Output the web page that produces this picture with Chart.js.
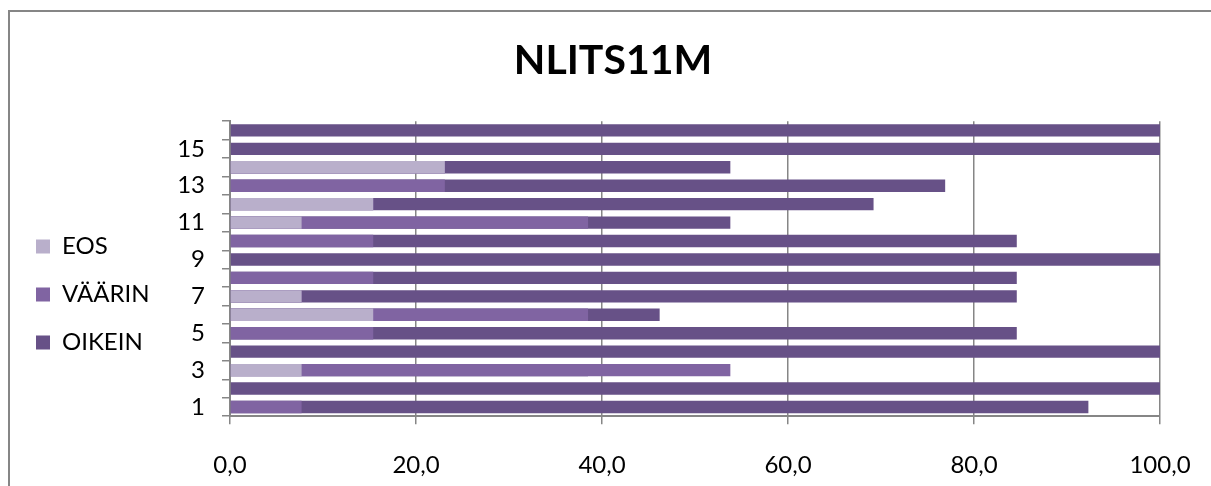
<!DOCTYPE html>
<html>
<head>
<meta charset="utf-8">
<title>NLITS11M</title>
<script src="https://cdn.jsdelivr.net/npm/chart.js@4.4.1/dist/chart.umd.min.js"></script>
<style>
  html, body { margin: 0; padding: 0; background: #ffffff; overflow: hidden; }
  #wrap { position: relative; width: 1211px; height: 486px; overflow: hidden; }
  #frame {
    position: absolute; left: 8px; top: 10px; width: 1240px; height: 500px;
    border-left: 2px solid #868686; border-top: 2px solid #868686;
    box-sizing: border-box; pointer-events: none;
  }
  canvas { position: absolute; left: 0; top: 0; }
</style>
</head>
<body>
<div id="wrap">
  <canvas id="chart" width="1226" height="486"></canvas>
  <div id="frame"></div>
</div>
<script>
// Question numbers (one bar each), share of answers in percent
const categories = ['1','2','3','4','5','6','7','8','9','10','11','12','13','14','15','16'];
const eos    = [0, 0, 7.7, 0, 0, 15.4, 7.7, 0, 0, 0, 7.7, 15.4, 0, 23.1, 0, 0];
const vaarin = [7.7, 0, 53.8, 0, 15.4, 38.5, 7.7, 15.4, 0, 15.4, 38.5, 15.4, 23.1, 23.1, 0, 0];
const oikein = [92.3, 100, 38.5, 100, 84.6, 46.2, 84.6, 84.6, 100, 84.6, 53.8, 69.2, 76.9, 53.8, 100, 100];
const xTicks = [0, 20, 40, 60, 80, 100];

const AXIS_GREY = '#868686';
const FONT = 'Lato, "Open Sans", sans-serif';
const PAD_LEFT = 12;
const PLOT_LEFT = 230;
const LEGEND_SHIFT = 36;

// Centre the title over the whole canvas and lower the legend next to the bars
const layoutTweaks = {
  id: 'layoutTweaks',
  afterLayout(chart) {
    if (chart.titleBlock) {
      chart.titleBlock.left = 0;
      chart.titleBlock.right = chart.width;
    }
    if (chart.legend) {
      chart.legend.top += LEGEND_SHIFT;
      chart.legend.bottom += LEGEND_SHIFT;
    }
  }
};

new Chart(document.getElementById('chart'), {
  type: 'bar',
  plugins: [layoutTweaks],
  data: {
    labels: categories,
    datasets: [
      { label: 'EOS',    data: eos,    backgroundColor: '#B9AFCB' },
      { label: 'VÄÄRIN', data: vaarin, backgroundColor: '#8064A2' },
      { label: 'OIKEIN', data: oikein, backgroundColor: '#675187' }
    ]
  },
  options: {
    indexAxis: 'y',
    responsive: false,
    animation: false,
    devicePixelRatio: 1,
    // bars share one slot and overlap, the first dataset is painted on top
    grouped: false,
    barPercentage: 0.67,
    categoryPercentage: 1,
    layout: { padding: { left: PAD_LEFT, right: 66, top: 10, bottom: -21 } },
    plugins: {
      title: {
        display: true,
        text: 'NLITS11M',
        color: '#000000',
        font: { family: FONT, size: 41, weight: 'bold' },
        padding: { top: 26, bottom: 36 }
      },
      legend: {
        position: 'left',
        align: 'center',
        labels: {
          color: '#000000',
          font: { family: FONT, size: 24 },
          boxWidth: 14,
          boxHeight: 14,
          padding: 24
        }
      },
      tooltip: { enabled: false }
    },
    scales: {
      x: {
        min: 0,
        max: 100,
        afterBuildTicks: (scale) => { scale.ticks = xTicks.map(v => ({ value: v })); },
        ticks: {
          color: '#000000',
          font: { family: FONT, size: 24 },
          padding: 27,
          maxRotation: 0,
          minRotation: 0,
          callback: (v) => Number(v).toFixed(1).replace('.', ',')
        },
        grid: { color: AXIS_GREY, lineWidth: 1.5, tickLength: 8 },
        border: { color: AXIS_GREY, width: 2 }
      },
      y: {
        reverse: true,
        afterFit: (scale) => {
          const lg = scale.chart.legend;
          if (lg && lg.width) scale.width = PLOT_LEFT - PAD_LEFT - lg.width;
        },
        ticks: {
          autoSkip: false,
          color: '#000000',
          font: { family: FONT, size: 24 },
          padding: 17,
          callback: (v, i) => (i % 2 === 0 ? categories[i] : '')
        },
        grid: { offset: true, drawOnChartArea: false, color: AXIS_GREY, lineWidth: 1.5, tickLength: 8 },
        border: { color: AXIS_GREY, width: 2 }
      }
    }
  }
});
</script>
</body>
</html>
